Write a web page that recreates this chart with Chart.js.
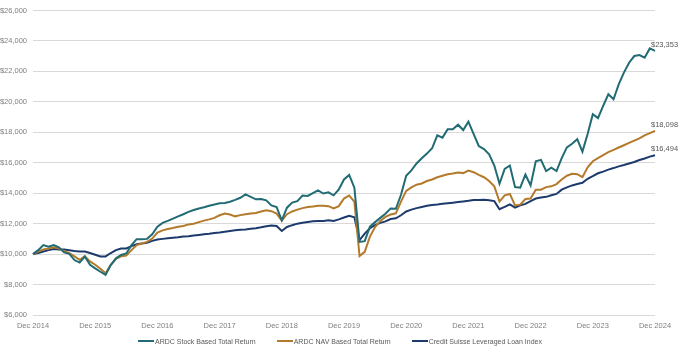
<!DOCTYPE html>
<html>
<head>
<meta charset="utf-8">
<script src="https://cdn.jsdelivr.net/npm/chart.js@4.4.1/dist/chart.umd.min.js"></script>
<style>
    body { margin: 0; background: #ffffff; }
    #wrap { width: 680px; height: 351px; position: relative; }
    #legend {
        position: absolute; left: 0; top: 334px; width: 680px; height: 14px;
        display: flex; justify-content: center; align-items: center; gap: 21px;
        font: 7px 'Liberation Sans', Arial, sans-serif; color: #595959;
    }
    #legend span.item { display: flex; align-items: center; white-space: nowrap; }
    #legend span.sw { display: inline-block; width: 16px; height: 2px; margin-right: 1px; }
</style>
</head>
<body>
<div id="wrap">
    <canvas id="chart"></canvas>
    <div id="legend"></div>
</div>
<script>
// Monthly values, Dec 2014 .. Dec 2024 (growth of $10,000)
const startYear = 2014;
const tickYears = [2014, 2015, 2016, 2017, 2018, 2019, 2020, 2021, 2022, 2023, 2024];

const stockReturn = [
    10000, 10260, 10590, 10480, 10590, 10450, 10110, 10020, 9610, 9440, 9840, 9300,
    9060, 8840, 8630, 9280, 9720, 9940, 10040, 10590, 10980, 10980, 11000, 11300,
    11800, 12050, 12180, 12330, 12480, 12620, 12770, 12900, 13000, 13080, 13180, 13260,
    13340, 13360, 13440, 13560, 13700, 13920, 13760, 13600, 13620, 13530, 13200, 13090,
    12220, 13050, 13380, 13480, 13850, 13820, 14000, 14180, 13980, 14060, 13860, 14250,
    14900, 15200, 14360, 10800, 10850, 11800, 12100, 12380, 12650, 13000, 12980, 13900,
    15150, 15500, 15950, 16300, 16600, 16950, 17800, 17650, 18200, 18200, 18500, 18150,
    18700, 17900, 17100, 16900, 16550, 15820, 14620, 15600, 15820, 14400, 14360, 15230,
    14510, 16100, 16190, 15450, 15670, 15450, 16300, 17010, 17250, 17550, 16730, 17890,
    19190, 18930, 19740, 20500, 20170, 21150, 21920, 22570, 23010, 23070, 22900, 23510,
    23353
];

const navReturn = [
    10000, 10170, 10300, 10370, 10450, 10370, 10200, 10070, 9850, 9630, 9850, 9520,
    9300, 9040, 8740, 9300, 9680, 9850, 9910, 10260, 10590, 10700, 10800, 11020,
    11420, 11560, 11650, 11720, 11800, 11850, 11950, 12000, 12100, 12200, 12280, 12380,
    12550, 12660, 12600, 12480, 12560, 12620, 12660, 12700, 12800, 12880, 12820, 12660,
    12200, 12620, 12800, 12920, 13020, 13090, 13130, 13180, 13170, 13150, 13000, 13150,
    13650, 13850, 13450, 9870, 10150, 11150, 11780, 12180, 12440, 12600, 12680, 13450,
    14150, 14380, 14560, 14640, 14800, 14900, 15050, 15150, 15250, 15300, 15360, 15320,
    15490, 15380, 15200, 15050, 14800, 14450, 13450, 13860, 13950, 13200, 13250, 13620,
    13650, 14230, 14230, 14400, 14450, 14600, 14900, 15150, 15270, 15250, 15050, 15700,
    16100, 16300, 16500, 16700, 16850, 17000, 17150, 17300, 17450, 17600, 17800, 17950,
    18098
];

const loanIndex = [
    10000, 10070, 10170, 10260, 10330, 10300, 10300, 10260, 10200, 10170, 10170, 10070,
    9960, 9850, 9850, 10070, 10260, 10370, 10370, 10520, 10650, 10700, 10740, 10870,
    10960, 11000, 11040, 11080, 11110, 11150, 11180, 11220, 11260, 11300, 11330, 11380,
    11420, 11470, 11520, 11560, 11600, 11620, 11660, 11700, 11760, 11830, 11880, 11850,
    11520, 11780, 11900, 12000, 12060, 12110, 12150, 12170, 12180, 12220, 12180, 12280,
    12400, 12520, 12420, 10920, 11350, 11700, 11900, 12050, 12150, 12300, 12350, 12550,
    12800, 12920, 13020, 13100, 13170, 13230, 13260, 13300, 13340, 13380, 13420, 13460,
    13500, 13560, 13560, 13570, 13540, 13480, 12950, 13100, 13270, 13050, 13200, 13300,
    13480, 13650, 13720, 13760, 13860, 13950, 14230, 14380, 14510, 14600, 14680, 14950,
    15120, 15310, 15420, 15550, 15650, 15760, 15850, 15950, 16050, 16180, 16280, 16400,
    16494
];

const seriesNames = ['ARDC Stock Based Total Return', 'ARDC NAV Based Total Return', 'Credit Suisse Leveraged Loan Index'];
const seriesColors = ['#216b74', '#b47a2b', '#1c3a6c'];

const monthNames = ['Jan', 'Feb', 'Mar', 'Apr', 'May', 'Jun', 'Jul', 'Aug', 'Sep', 'Oct', 'Nov', 'Dec'];
const months = [];
for (let i = 0; i < stockReturn.length; i++) {
    const m = (11 + i) % 12;
    const y = startYear + Math.floor((11 + i) / 12);
    months.push(monthNames[m] + ' ' + y);
}

const FONT = "'Liberation Sans', Arial, sans-serif";

// end-of-line value labels
const endLabels = {
    id: 'endLabels',
    afterDatasetsDraw(chart) {
        const ctx = chart.ctx;
        ctx.save();
        ctx.font = '7.5px ' + FONT;
        ctx.fillStyle = '#595959';
        ctx.textAlign = 'left';
        ctx.textBaseline = 'middle';
        chart.data.datasets.forEach((ds, i) => {
            const meta = chart.getDatasetMeta(i);
            const pt = meta.data[meta.data.length - 1];
            const v = ds.data[ds.data.length - 1];
            ctx.fillText('$' + v.toLocaleString('en-US'), pt.x - 4, pt.y - 6);
        });
        ctx.restore();
    }
};

const datasets = [stockReturn, navReturn, loanIndex].map((arr, i) => ({
    label: seriesNames[i],
    data: arr,
    borderColor: seriesColors[i],
    backgroundColor: seriesColors[i],
    borderWidth: 2,
    pointRadius: 0,
    tension: 0
}));

new Chart(document.getElementById('chart'), {
    type: 'line',
    data: { labels: months, datasets: datasets },
    options: {
        responsive: true,
        maintainAspectRatio: false,
        animation: false,
        layout: { padding: { top: 7, right: 25, left: 0, bottom: 19 } },
        scales: {
            x: {
                grid: { display: false, drawTicks: false },
                border: { display: false },
                ticks: {
                    autoSkip: false,
                    maxRotation: 0,
                    padding: 6,
                    color: '#7f7f7f',
                    font: { size: 7.5, family: FONT },
                    callback: (val, idx) => idx % 12 === 0 ? 'Dec ' + tickYears[idx / 12] : null
                },
                afterFit: s => { s.height = 17; }
            },
            y: {
                min: 6000,
                max: 26000,
                grid: { color: '#d9d9d9', drawTicks: false },
                border: { display: false },
                ticks: {
                    stepSize: 2000,
                    padding: 6,
                    color: '#7f7f7f',
                    font: { size: 7.5, family: FONT },
                    callback: v => '$' + v.toLocaleString('en-US')
                },
                afterFit: s => { s.width = 33; }
            }
        },
        plugins: {
            legend: { display: false },
            tooltip: { enabled: false }
        }
    },
    plugins: [endLabels]
});

// legend below the plot
const legendEl = document.getElementById('legend');
seriesNames.forEach((name, i) => {
    const item = document.createElement('span');
    item.className = 'item';
    const sw = document.createElement('span');
    sw.className = 'sw';
    sw.style.background = seriesColors[i];
    item.appendChild(sw);
    item.appendChild(document.createTextNode(name));
    legendEl.appendChild(item);
});
</script>
</body>
</html>
